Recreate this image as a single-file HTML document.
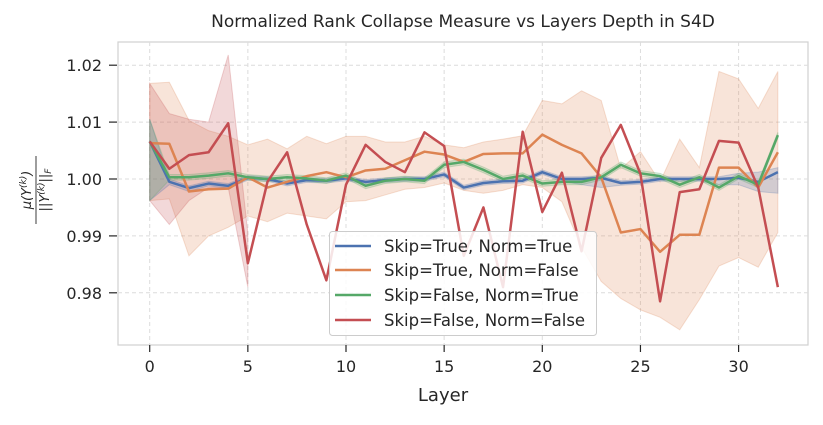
<!DOCTYPE html>
<html><head><meta charset="utf-8"><style>
body{margin:0;background:#fff;}
svg text{font-family:"DejaVu Sans","Liberation Sans",sans-serif;fill:#262626;}
</style></head><body>
<svg id="chart" width="823" height="420" viewBox="0 0 823 420">
<text x="463" y="27" text-anchor="middle" font-size="17">Normalized Rank Collapse Measure vs Layers Depth in S4D</text>
<rect x="118" y="42" width="690" height="303" fill="#fff" stroke="#d0d0d0" stroke-width="1.2"/>
<g id="grid"></g>
<g id="bands"></g>
<g id="lines"></g>
<g id="axes"></g>
<text x="443" y="401" text-anchor="middle" font-size="18">Layer</text>
<g transform="translate(34,190) rotate(-90)">
<text x="0" y="-3" text-anchor="middle" font-size="13" font-style="italic">μ(Y<tspan font-size="9" dy="-5">(k)</tspan><tspan dy="5">)</tspan></text>
<line x1="-34" y1="2" x2="34" y2="2" stroke="#262626" stroke-width="0.9"/>
<text x="0" y="15" text-anchor="middle" font-size="13" font-style="italic">||Y<tspan font-size="9" dy="-5">(k)</tspan><tspan dy="5">||</tspan><tspan font-size="9" dy="2">F</tspan></text>
</g>
<g>
<rect x="329.5" y="231.5" width="267" height="104" rx="3" fill="#fff" fill-opacity="0.85" stroke="#cccccc"/>
<line x1="335" y1="246" x2="371" y2="246" stroke="#4c72b0" stroke-width="2.5"/><text x="384" y="252" font-size="16.5">Skip=True, Norm=True</text>
<line x1="335" y1="270" x2="371" y2="270" stroke="#dd8452" stroke-width="2.5"/><text x="384" y="276" font-size="16.5">Skip=True, Norm=False</text>
<line x1="335" y1="295" x2="371" y2="295" stroke="#55a868" stroke-width="2.5"/><text x="384" y="301" font-size="16.5">Skip=False, Norm=True</text>
<line x1="335" y1="320" x2="371" y2="320" stroke="#c44e52" stroke-width="2.5"/><text x="384" y="326" font-size="16.5">Skip=False, Norm=False</text>
</g>
</svg>
<script>
const xTicks=[0,5,10,15,20,25,30];
const yTicks=[0.98,0.99,1.00,1.01,1.02];
const yTickLabels=["0.98","0.99","1.00","1.01","1.02"];
const blueVals=[1.0066,0.9995,0.9984,0.9992,0.9988,1.0002,1.0000,0.9992,0.9998,0.9997,1.0001,0.9995,0.9998,1.0000,1.0000,1.0008,0.9985,0.9993,0.9996,0.9997,1.0012,1.0000,1.0000,1.0002,0.9993,0.9995,1.0000,1.0000,1.0000,1.0000,1.0002,0.9995,1.0012];
const orangeVals=[1.0063,1.0062,0.9978,0.9982,0.9983,1.0003,0.9985,0.9995,1.0005,1.0012,1.0003,1.0015,1.0018,1.0033,1.0048,1.0043,1.0030,1.0044,1.0045,1.0045,1.0078,1.0060,1.0045,1.0003,0.9906,0.9912,0.9872,0.9902,0.9902,1.0020,1.0020,0.9985,1.0047];
const greenVals=[1.0066,1.0003,1.0003,1.0006,1.0010,1.0003,1.0000,1.0003,1.0001,0.9997,1.0006,0.9988,0.9997,1.0000,0.9997,1.0025,1.0030,1.0016,1.0000,1.0006,0.9992,0.9995,0.9995,1.0003,1.0025,1.0010,1.0005,0.9990,1.0003,0.9985,1.0005,0.9990,1.0077];
const redVals=[1.0066,1.0018,1.0042,1.0047,1.0098,0.9852,0.9995,1.0047,0.9920,0.9822,0.9990,1.0060,1.0030,1.0012,1.0082,1.0058,0.9865,0.9950,0.9810,1.0083,0.9942,1.0011,0.9873,1.0037,1.0095,1.0009,0.9785,0.9977,0.9982,1.0067,1.0064,0.9985,0.9810];
const orangeUpper=[1.0168,1.0170,1.0103,1.0085,1.0075,1.0060,1.0070,1.0053,1.0075,1.0062,1.0075,1.0075,1.0065,1.0065,1.0075,1.0060,1.0055,1.0065,1.0070,1.0076,1.0138,1.0132,1.0155,1.0138,1.0018,1.0048,0.9995,1.0070,1.0020,1.0189,1.0176,1.0124,1.0189];
const orangeLower=[0.9962,0.9965,0.9865,0.9900,0.9915,0.9935,0.9925,0.9940,0.9935,0.9930,0.9960,0.9962,0.9972,0.9982,0.9985,0.9993,0.9980,0.9975,0.9980,0.9990,0.9985,0.9960,0.9880,0.9820,0.9790,0.9770,0.9757,0.9735,0.9788,0.9847,0.9862,0.9845,0.9906];
const redUpper=[1.0168,1.0115,1.0105,1.0100,1.0218,0.9905];
const redLower=[0.9962,0.9920,0.9962,0.9985,0.9985,0.9810];
const blueUpper=[1.0105,1.0000,0.9988,0.9996,0.9992,1.0006,1.0004,0.9996,1.0002,1.0001,1.0005,0.9999,1.0002,1.0004,1.0004,1.0012,0.9989,0.9997,1.0000,1.0001,1.0016,1.0004,1.0004,1.0006,0.9997,0.9999,1.0004,1.0004,1.0004,1.0004,1.0010,1.0012,1.0020];
const blueLower=[0.9962,0.9990,0.9978,0.9988,0.9984,0.9998,0.9996,0.9988,0.9994,0.9993,0.9997,0.9991,0.9994,0.9996,0.9996,1.0004,0.9981,0.9989,0.9992,0.9993,1.0008,0.9996,0.9990,0.9985,0.9989,0.9991,0.9996,0.9996,0.9996,0.9990,0.9990,0.9978,0.9975];
const greenUpper=greenVals.map((v,i)=>i===0?1.0105:v+0.0005);
const greenLower=greenVals.map((v,i)=>i===0?0.9962:v-0.0005);
const X0=149.7,XS=19.63,Y1=179,YS=5690;
const xs=v=>X0+v*XS, ys=v=>Y1-(v-1)*YS;
const NS='http://www.w3.org/2000/svg';
function mk(t,a,p){const e=document.createElementNS(NS,t);for(const k in a)e.setAttribute(k,a[k]);p.appendChild(e);return e;}
const grid=document.getElementById('grid'),axes=document.getElementById('axes'),bands=document.getElementById('bands'),lines=document.getElementById('lines');
xTicks.forEach(t=>{const x=xs(t);
 const g=mk('line',{x1:x,x2:x,y1:42,y2:345,stroke:'#dcdcdc','stroke-dasharray':'4,3'},grid);
 
 
 mk('line',{x1:x,x2:x,y1:345,y2:352,stroke:'#262626','stroke-width':1.2},axes);
 const tx=mk('text',{x:x,y:372,'text-anchor':'middle','font-size':16},axes);tx.textContent=t;
 
 });
yTicks.forEach((t,i)=>{const y=ys(t);
 const g=mk('line',{x1:118,x2:808,y1:y,y2:y,stroke:'#dcdcdc','stroke-dasharray':'4,3'},grid);
 
 
 mk('line',{x1:109,x2:117,y1:y,y2:y,stroke:'#262626','stroke-width':1.2},axes);
 const tx=mk('text',{x:102,y:y+6,'text-anchor':'end','font-size':16},axes);tx.textContent=yTickLabels[i];
 
 });
function band(up,lo,col,name){let d='';up.forEach((v,i)=>{d+=(i?'L':'M')+xs(i)+','+ys(v);});
 for(let i=lo.length-1;i>=0;i--)d+='L'+xs(i)+','+ys(lo[i]);d+='Z';
 const p=mk('path',{d:d,fill:col,'fill-opacity':0.22,stroke:col,'stroke-opacity':0.25},bands);
 
 }
function line(vals,col,name){const d=vals.map((v,i)=>(i?'L':'M')+xs(i)+','+ys(v)).join('');
 const p=mk('path',{d:d,fill:'none',stroke:col,'stroke-width':2.5,'stroke-linejoin':'round'},lines);
 
 }
band(orangeUpper,orangeLower,'#dd8452','band-skip-true-norm-false');
band(redUpper,redLower,'#c44e52','band-skip-false-norm-false');
band(blueUpper,blueLower,'#4c72b0','band-skip-true-norm-true');
band(greenUpper,greenLower,'#55a868','band-skip-false-norm-true');
line(blueVals,'#4c72b0','line-skip-true-norm-true');
line(orangeVals,'#dd8452','line-skip-true-norm-false');
line(greenVals,'#55a868','line-skip-false-norm-true');
line(redVals,'#c44e52','line-skip-false-norm-false');
</script>
</body></html>
